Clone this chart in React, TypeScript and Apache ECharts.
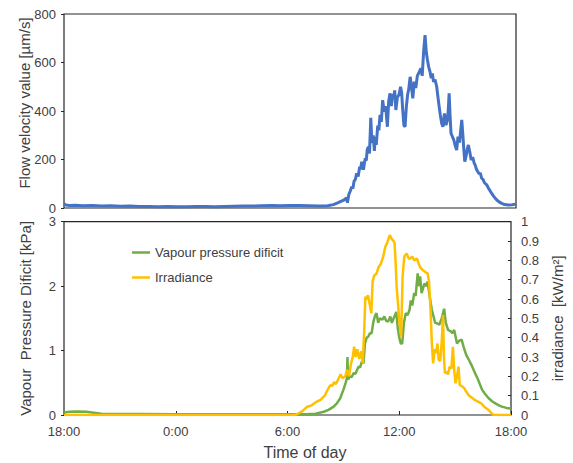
import React, { useEffect, useRef } from "react";
import * as echarts from "echarts";

const xTickLabels = ["18:00", "0:00", "6:00", "12:00", "18:00"];
const legendNames = ["Vapour pressure dificit", "Irradiance"];
const xTitle = "Time of day";

// [hours since 18:00, flow velocity µm/s]
const flowData: [number, number][] = [
  [0, 18], [0.1, 12], [0.3, 10], [0.6, 11], [1, 9], [1.5, 10], [2, 8], [2.5, 9], [3, 7], [3.5, 8],
  [4, 6], [4.5, 6], [5, 5], [5.5, 6], [6, 5], [6.5, 5], [7, 6], [7.5, 6], [8, 5], [8.5, 6],
  [9, 7], [9.5, 8], [10, 8], [10.5, 9], [11, 10], [11.5, 9], [12, 10], [12.5, 10], [13, 9], [13.5, 8],
  [14, 9], [14.3, 14], [14.5, 20], [14.7, 27], [14.85, 32], [15.0, 42], [15.05, 22], [15.12, 55],
  [15.2, 70], [15.28, 88], [15.34, 80], [15.4, 110], [15.47, 118], [15.54, 143], [15.62, 130],
  [15.7, 170], [15.75, 160], [15.81, 191], [15.9, 158], [15.95, 185], [16.0, 205], [16.05, 195],
  [16.1, 240], [16.16, 253], [16.22, 225], [16.29, 372], [16.35, 268], [16.42, 300], [16.48, 235],
  [16.52, 294], [16.58, 260], [16.66, 340], [16.72, 320], [16.78, 384], [16.85, 355], [16.92, 445],
  [17.0, 397], [17.08, 420], [17.17, 335], [17.24, 440], [17.31, 473], [17.38, 420], [17.45, 470],
  [17.5, 452], [17.56, 485], [17.62, 404], [17.7, 455], [17.8, 470], [17.87, 500], [17.93, 475],
  [17.98, 410], [18.05, 340], [18.11, 335], [18.18, 420], [18.25, 470], [18.3, 487], [18.38, 541],
  [18.45, 500], [18.52, 452], [18.6, 521], [18.68, 495], [18.76, 545], [18.87, 562], [18.95, 576],
  [19.02, 545], [19.1, 650], [19.17, 713], [19.24, 640], [19.3, 610], [19.36, 583], [19.44, 560],
  [19.5, 535], [19.56, 555], [19.62, 520], [19.7, 530], [19.79, 500], [19.86, 455], [19.92, 418],
  [19.98, 384], [20.05, 350], [20.12, 335], [20.2, 390], [20.28, 342], [20.35, 360], [20.4, 400],
  [20.45, 473], [20.5, 380], [20.55, 308], [20.62, 295], [20.7, 280], [20.78, 255], [20.85, 239],
  [20.92, 294], [21.0, 270], [21.05, 310], [21.12, 363], [21.18, 300], [21.22, 253], [21.28, 191],
  [21.35, 215], [21.42, 245], [21.47, 260], [21.55, 230], [21.62, 198], [21.7, 210], [21.78, 185],
  [21.83, 177], [21.9, 160], [21.97, 150], [22.05, 140], [22.1, 145], [22.18, 122], [22.25, 118],
  [22.32, 105], [22.38, 100], [22.45, 95], [22.55, 80], [22.63, 70], [22.71, 60], [22.8, 50],
  [22.9, 40], [22.98, 33], [23.1, 25], [23.24, 19], [23.4, 14], [23.6, 12], [23.8, 13], [24, 16],
];

// [hours since 18:00, VPD kPa]
const vpdData: [number, number][] = [
  [0, 0.04], [0.3, 0.05], [0.7, 0.055], [1.2, 0.05], [1.6, 0.035], [2.0, 0.02], [2.5, 0.015],
  [4, 0.015], [6, 0.01], [8, 0.01], [10, 0.01], [12, 0.01], [13.0, 0.01], [13.5, 0.02],
  [13.95, 0.05], [14.2, 0.08], [14.48, 0.13], [14.65, 0.18], [14.83, 0.26], [15.0, 0.39],
  [15.12, 0.5], [15.19, 0.57], [15.22, 0.9], [15.25, 0.55], [15.35, 0.6], [15.45, 0.59],
  [15.55, 0.65], [15.65, 0.64], [15.81, 0.75], [15.9, 0.74], [15.99, 0.83], [16.08, 0.8],
  [16.16, 1.11], [16.25, 1.2], [16.34, 1.22], [16.43, 1.27], [16.52, 1.27], [16.6, 1.43],
  [16.69, 1.53], [16.78, 1.58], [16.87, 1.43], [16.95, 1.5], [17.1, 1.48], [17.2, 1.53],
  [17.3, 1.46], [17.4, 1.45], [17.52, 1.53], [17.6, 1.43], [17.7, 1.5], [17.84, 1.6],
  [17.92, 1.35], [18.0, 1.2], [18.08, 1.11], [18.16, 1.11], [18.25, 1.43], [18.35, 1.58],
  [18.45, 1.55], [18.55, 1.63], [18.62, 1.78], [18.7, 1.7], [18.8, 1.89], [18.88, 1.85],
  [18.99, 2.2], [19.05, 2.0], [19.12, 2.15], [19.2, 1.89], [19.35, 2.04], [19.45, 2.0],
  [19.52, 2.07], [19.65, 1.81], [19.75, 1.63], [19.93, 1.43], [20.05, 1.42], [20.15, 1.4],
  [20.28, 1.5], [20.41, 1.65], [20.5, 1.43], [20.62, 1.32], [20.75, 1.3], [20.85, 1.27],
  [20.95, 1.32], [21.1, 1.11], [21.2, 1.15], [21.35, 1.17], [21.45, 1.06], [21.6, 0.93],
  [21.75, 0.85], [21.92, 0.75], [22.1, 0.63], [22.2, 0.57], [22.45, 0.39], [22.6, 0.33],
  [22.8, 0.26], [23.0, 0.21], [23.16, 0.18], [23.35, 0.15], [23.51, 0.13], [23.75, 0.11], [24, 0.1],
];

// [hours since 18:00, irradiance kW/m²]
const irrData: [number, number][] = [
  [0, 0], [12.4, 0], [12.53, 0.005], [12.8, 0.02], [13.06, 0.043], [13.3, 0.05], [13.5, 0.065],
  [13.77, 0.078], [14.0, 0.1], [14.15, 0.13], [14.3, 0.155], [14.4, 0.15], [14.5, 0.17],
  [14.6, 0.16], [14.75, 0.19], [14.85, 0.21], [14.95, 0.19], [15.1, 0.2], [15.2, 0.233],
  [15.3, 0.2], [15.4, 0.26], [15.5, 0.3], [15.58, 0.353], [15.66, 0.3], [15.75, 0.34],
  [15.85, 0.29], [15.96, 0.33], [16.04, 0.267], [16.12, 0.44], [16.18, 0.612], [16.25, 0.6],
  [16.32, 0.62], [16.4, 0.58], [16.5, 0.526], [16.57, 0.69], [16.65, 0.72], [16.78, 0.733],
  [16.9, 0.767], [17.0, 0.78], [17.14, 0.82], [17.25, 0.87], [17.35, 0.89], [17.49, 0.931],
  [17.6, 0.91], [17.7, 0.9], [17.75, 0.888], [17.8, 0.8], [17.86, 0.664], [17.93, 0.58],
  [18.0, 0.49], [18.1, 0.405], [18.18, 0.715], [18.27, 0.82], [18.4, 0.836], [18.5, 0.81],
  [18.6, 0.81], [18.7, 0.82], [18.8, 0.8], [18.95, 0.81], [19.05, 0.78], [19.15, 0.76],
  [19.26, 0.75], [19.4, 0.74], [19.52, 0.733], [19.6, 0.69], [19.68, 0.543], [19.75, 0.371],
  [19.82, 0.267], [19.9, 0.34], [19.98, 0.32], [20.05, 0.37], [20.12, 0.285], [20.2, 0.28],
  [20.28, 0.38], [20.35, 0.517], [20.4, 0.3], [20.45, 0.216], [20.55, 0.224], [20.62, 0.21],
  [20.7, 0.25], [20.8, 0.24], [20.88, 0.353], [20.95, 0.233], [21.02, 0.164], [21.1, 0.2],
  [21.18, 0.25], [21.25, 0.155], [21.35, 0.15], [21.48, 0.14], [21.6, 0.12], [21.75, 0.1],
  [21.9, 0.09], [22.05, 0.078], [22.2, 0.07], [22.4, 0.06], [22.6, 0.04], [22.8, 0.026],
  [23.0, 0.005], [23.06, 0], [24, 0],
];

const FONT = "'Liberation Sans', Arial, sans-serif";
const TXT = "#404040";
const AX = "#262626";

export default function App() {
  const ref = useRef<HTMLDivElement>(null);
  useEffect(() => {
    if (!ref.current) return;
    const chart = echarts.init(ref.current, undefined, { renderer: "svg" });
    const axisLabelBase = { color: TXT, fontSize: 13, fontFamily: FONT };
    const nameStyle = { color: TXT, fontSize: 15, fontFamily: FONT };
    chart.setOption({
      animation: false,
      textStyle: { fontFamily: FONT },
      grid: [
        { left: 64, top: 14, width: 452, height: 194, show: true, borderColor: AX, borderWidth: 1.2, backgroundColor: "transparent" },
        { left: 64, top: 221.7, width: 452, height: 193.3, show: true, borderColor: AX, borderWidth: 1.2, backgroundColor: "transparent" },
      ],
      legend: {
        data: legendNames,
        orient: "vertical",
        left: 127,
        top: 240,
        icon: "rect",
        itemWidth: 18,
        itemHeight: 2.5,
        itemGap: 10,
        textStyle: { ...axisLabelBase, lineHeight: 15 },
      },
      graphic: [
        {
          type: "text",
          x: 305,
          y: 452,
          style: {
            text: xTitle,
            fill: TXT,
            font: `16px ${FONT}`,
            textAlign: "center",
            textVerticalAlign: "middle",
          },
        },
      ],
      xAxis: [
        {
          gridIndex: 0, type: "value", min: 0, max: 24, interval: 6,
          axisLine: { show: false }, axisTick: { show: false }, axisLabel: { show: false }, splitLine: { show: false },
        },
        {
          gridIndex: 1, type: "value", min: 0, max: 24, interval: 6,
          axisLine: { show: false },
          axisTick: { show: true, inside: true, length: 4, lineStyle: { color: AX } },
          axisLabel: { ...axisLabelBase, margin: 10, formatter: (v: number) => xTickLabels[Math.round(v / 6)] },
          splitLine: { show: false },
        },
      ],
      yAxis: [
        {
          gridIndex: 0, type: "value", min: 0, max: 800, interval: 200,
          axisLine: { show: false },
          axisTick: { show: true, length: 3, lineStyle: { color: AX } },
          axisLabel: { ...axisLabelBase, margin: 8 },
          splitLine: { show: false },
          name: "Flow velocity value [µm/s]", nameLocation: "middle", nameRotate: 90, nameGap: 32,
          nameMoveOverlap: false, nameTextStyle: { ...nameStyle, padding: [0, 0, 0, 16] },
        },
        {
          gridIndex: 1, type: "value", min: 0, max: 3, interval: 1,
          axisLine: { show: false },
          axisTick: { show: true, length: 3, lineStyle: { color: AX } },
          axisLabel: { ...axisLabelBase, margin: 8 },
          splitLine: { show: false },
          name: "Vapour  Pressure Dificit [kPa]", nameLocation: "middle", nameRotate: 90, nameGap: 31,
          nameMoveOverlap: false, nameTextStyle: nameStyle,
        },
        {
          gridIndex: 1, type: "value", min: 0, max: 1, interval: 0.1, position: "right",
          axisLine: { show: false },
          axisTick: { show: true, inside: true, length: 3, lineStyle: { color: AX } },
          axisLabel: { ...axisLabelBase, margin: 10 },
          splitLine: { show: false },
          name: "irradiance  [kW/m²]", nameLocation: "middle", nameRotate: 90, nameGap: 39,
          nameMoveOverlap: false, nameTextStyle: nameStyle,
        },
      ],
      series: [
        {
          name: "Flow velocity", type: "line", xAxisIndex: 0, yAxisIndex: 0, data: flowData,
          symbol: "none", lineStyle: { color: "#4472C4", width: 3 }, itemStyle: { color: "#4472C4" },
        },
        {
          name: legendNames[0], type: "line", xAxisIndex: 1, yAxisIndex: 1, data: vpdData,
          symbol: "none", lineStyle: { color: "#70AD47", width: 2.5 }, itemStyle: { color: "#70AD47" },
        },
        {
          name: legendNames[1], type: "line", xAxisIndex: 1, yAxisIndex: 2, data: irrData,
          symbol: "none", lineStyle: { color: "#FFC000", width: 2.5 }, itemStyle: { color: "#FFC000" },
        },
      ],
    });
    return () => chart.dispose();
  }, []);
  return (
    <div
      ref={ref}
      style={{ position: "absolute", left: 0, top: 0, width: 573, height: 463, background: "#fff" }}
    />
  );
}
